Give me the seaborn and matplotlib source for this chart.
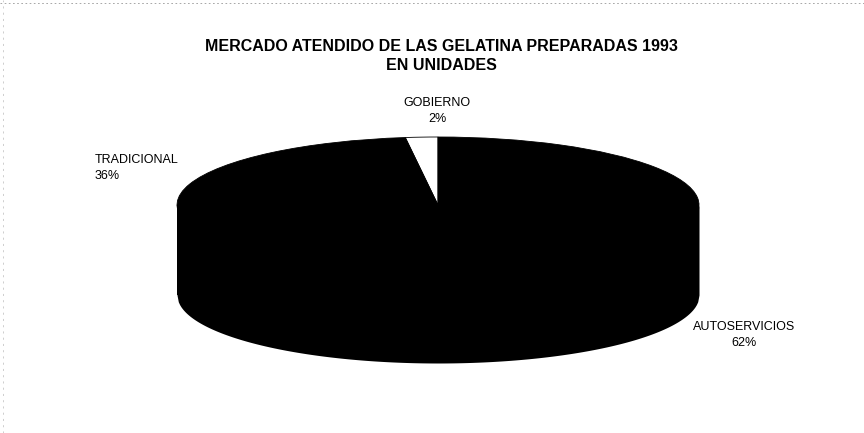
import numpy as np
import matplotlib
matplotlib.use("Agg")
import matplotlib.pyplot as plt
import seaborn as sns

categories = ["GOBIERNO", "TRADICIONAL", "AUTOSERVICIOS"]
shares = [2, 36, 62]
labels = ["GOBIERNO\n2%", "TRADICIONAL\n36%", "AUTOSERVICIOS\n62%"]
slice_colors = ["white", "black", "black"]
title = "MERCADO ATENDIDO DE LAS GELATINA PREPARADAS 1993\nEN UNIDADES"

sns.set_theme(style="white")
plt.rcParams['font.family'] = ['Liberation Sans', 'DejaVu Sans']
plt.rcParams['text.color'] = 'black'

W, H = 864, 433
fig = plt.figure(figsize=(W / 100, H / 100), dpi=100)
ax = fig.add_axes([0, 0, 1, 1])

# ellipse geometry in pixels
cx, cy, a, b, depth = 438, 205, 261, 68, 90

def set_limits():
    ax.set_aspect('auto')
    ax.set_xlim(-cx / a, (W - cx) / a)
    ax.set_ylim(-(H - cy) / b, cy / b)
    ax.axis('off')

set_limits()
d = depth / b
# side wall (front half)
xs = np.linspace(-1, 1, 400)
ytop = -np.sqrt(np.clip(1 - xs ** 2, 0, None))
ax.fill_between(xs, ytop - d, ytop, color="black", lw=0)
ax.fill_between([-1, 1], [-d, -d], [0, 0], color="black", lw=0)

ax.pie(shares, colors=slice_colors, startangle=90, counterclock=True,
       wedgeprops=dict(linewidth=0.6, edgecolor="black"), frame=False)
set_limits()

def px(x, y):
    return x / W, 1 - y / H

fig.text(*px(441, 56), title, ha="center", va="center", fontsize=11.5,
         fontweight="bold", linespacing=1.35, color="black")
fig.text(*px(437, 111), labels[0], ha="center", va="center", fontsize=9, linespacing=1.45, color="black")
fig.text(*px(95, 168), labels[1], ha="left", va="center", fontsize=9, linespacing=1.45, color="black")
fig.text(*px(744, 335), labels[2], ha="center", va="center", fontsize=9, linespacing=1.4, color="black")

# scan border remnants
fig.add_artist(plt.Line2D([0, 1], [1 - 3 / H, 1 - 3 / H], color="#999999", lw=0.6, ls=(0, (2, 3))))
fig.add_artist(plt.Line2D([3 / W, 3 / W], [0, 1], color="#bbbbbb", lw=0.5, ls=(0, (3, 6))))

fig.savefig("out.png", dpi=100, facecolor="white")
